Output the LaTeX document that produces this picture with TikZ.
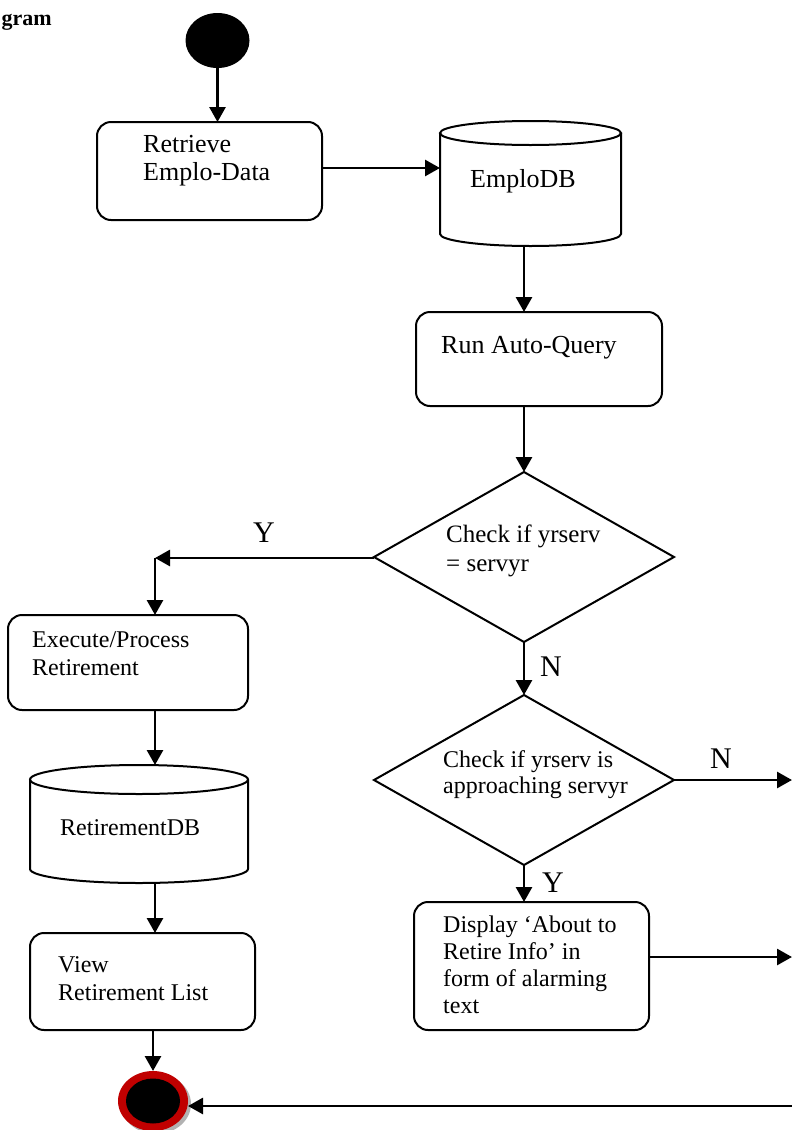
\documentclass[tikz,border=0pt]{standalone}
\usepackage{fontspec}
\setmainfont{Liberation Serif}
\usetikzlibrary{arrows.meta,shapes.geometric,calc}
\definecolor{endred}{RGB}{192,0,0}
\tikzset{
  actbox/.style={draw, line width=2pt, rounded corners=14pt, inner sep=0pt, outer sep=0pt, rectangle},
  dbbox/.style={inner sep=0pt, outer sep=0pt, rectangle},
  dec/.style={draw, diamond, line width=2pt, inner sep=0pt, outer sep=0pt},
  arr/.style={line width=2.8pt, -{Triangle[length=15pt,width=16pt]}},
  cyl/.style={line width=2pt},
  bigtxt/.style={font=\fontsize{26}{28}\selectfont, anchor=base west, inner sep=0pt, align=left},
  midtxt/.style={font=\fontsize{24}{27}\selectfont, anchor=base west, inner sep=0pt, align=left},
  lbl/.style={font=\fontsize{30}{30}\selectfont, anchor=base west, inner sep=0pt},
}
\begin{document}
\begin{tikzpicture}[x=1pt,y=-1pt]
\useasboundingbox (0,0) rectangle (792,1130);
\clip (0,0) rectangle (792,1130);

% heading fragment
\node[font=\fontsize{22}{22}\selectfont\bfseries, anchor=base east, inner sep=0pt] (head) at (52,25) {gram};

% start
\node[ellipse, fill=black, minimum width=64pt, minimum height=55pt, inner sep=0pt, outer sep=0pt] (start) at (217.5,40.5) {};

% Retrieve box
\node[actbox, minimum width=225pt, minimum height=98pt] (ret) at (209.5,171) {};
\node[bigtxt] (rettxt) at (143,180) {Retrieve\\Emplo-Data};

% EmploDB cylinder
\node[dbbox, minimum width=181pt, minimum height=125pt] (edb) at (530.5,183.5) {};
\draw[cyl] (530.5,133) ellipse [x radius=90.5pt, y radius=12pt];
\draw[cyl] (440,133) -- (440,234) arc [start angle=180, end angle=360, x radius=90.5pt, y radius=12pt] -- (621,133);
\node[bigtxt] (edbtxt) at (470,187) {EmploDB};

% Run Auto-Query
\node[actbox, minimum width=246pt, minimum height=94pt] (run) at (539,359) {};
\node[bigtxt] (runtxt) at (441,353) {Run Auto-Query};

% Decision 1
\node[dec, minimum width=300pt, minimum height=170pt] (d1) at (524,557) {};
\node[font=\fontsize{25}{29}\selectfont, anchor=base west, inner sep=0pt, align=left] (d1txt) at (446,571) {Check if yrserv\\= servyr};

% Y branch
\coordinate (yc) at (155,558);
\node[actbox, minimum width=240pt, minimum height=95pt] (exe) at (128,662.5) {};
\node[midtxt, font=\fontsize{24}{28}\selectfont] (exetxt) at (32,675) {Execute/Process\\Retirement};

% RetirementDB
\node[dbbox, minimum width=218pt, minimum height=118pt] (rdb) at (139,824) {};
\draw[cyl] (139,779.5) ellipse [x radius=109pt, y radius=14.5pt];
\draw[cyl] (30,779.5) -- (30,869) arc [start angle=180, end angle=360, x radius=109pt, y radius=14pt] -- (248,779.5);
\node[midtxt] (rdbtxt) at (60,835) {RetirementDB};

% View list
\node[actbox, minimum width=225pt, minimum height=97pt] (view) at (142.5,981.5) {};
\node[midtxt, font=\fontsize{24}{28}\selectfont] (viewtxt) at (58,1000) {View\\Retirement List};

% End
\node[ellipse, minimum width=70pt, minimum height=60pt, inner sep=0pt, outer sep=0pt] (end) at (153,1101) {};
\fill[black!30] (156,1104) ellipse [x radius=35pt, y radius=30pt];
\fill[endred] (153,1101) ellipse [x radius=35pt, y radius=30pt];
\fill[black] (153,1101) ellipse [x radius=27pt, y radius=22.5pt];

% Decision 2
\node[dec, minimum width=300pt, minimum height=170pt] (d2) at (524,780) {};
\node[midtxt, font=\fontsize{24}{26}\selectfont] (d2txt) at (443,793) {Check if yrserv is\\approaching servyr};

% Display box
\node[actbox, minimum width=235pt, minimum height=128pt] (disp) at (531.5,966) {};
\node[midtxt, font=\fontsize{24}{27}\selectfont] (disptxt) at (443,1013) {Display ‘About to\\Retire Info’ in\\form of alarming\\text};

% right edge coordinates
\coordinate (rN) at (792,780);
\coordinate (rD) at (792,957);
\coordinate (rE) at (792,1106);

% connectors
\draw[arr] (start.south) -- (ret.north -| start.south);
\draw[arr] ([yshift=3pt]ret.east) -- ([yshift=3pt]ret.east -| edb.west);
\draw[arr] (edb.south -| d1.north) -- (run.north -| d1.north);
\draw[arr] (run.south -| d1.north) -- (d1.north);
\draw[arr] (d1.west |- yc) -- (yc);
\draw[arr] (yc) -- (exe.north -| yc);
\draw[arr] (exe.south -| yc) -- (rdb.north -| yc);
\draw[arr] (rdb.south -| yc) -- (view.north -| yc);
\draw[arr] (view.south -| end.north) -- (end.north);
\draw[arr] (d1.south) -- (d2.north);
\draw[arr] (d2.east) -- (rN);
\draw[arr] (d2.south) -- (disp.north -| d2.south);
\draw[arr] ([yshift=9pt]disp.east) -- (rD);
\draw[arr] (rE) -- (end.east |- rE);

% labels
\node[lbl] (lY1) at (253,542) {Y};
\node[lbl] (lN1) at (540,676) {N};
\node[lbl] (lN2) at (710,768) {N};
\node[lbl] (lY2) at (542,892) {Y};
\end{tikzpicture}
\end{document}
